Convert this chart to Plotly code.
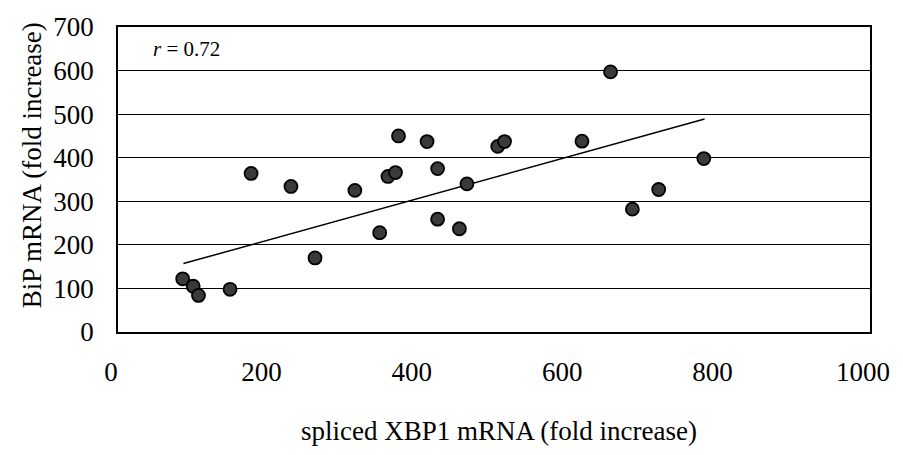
import plotly.graph_objects as go

# Data
xbp1 = [86, 100, 107, 149, 177, 230, 262, 315, 348, 359, 369, 373, 411, 425, 425,
        454, 464, 505, 514, 617, 655, 684, 719, 779]
bip = [122, 105, 84, 98, 364, 334, 170, 325, 228, 357, 366, 450, 437, 375, 259,
       237, 340, 426, 437, 438, 597, 282, 327, 398]

trend_x = [87, 780]
trend_y = [157, 489]

x_ticks = [0, 200, 400, 600, 800, 1000]
y_ticks = [0, 100, 200, 300, 400, 500, 600, 700]

FONT = "Liberation Serif"

fig = go.Figure()
fig.add_trace(go.Scatter(
    x=trend_x, y=trend_y, mode="lines",
    line=dict(color="black", width=1.5), showlegend=False, hoverinfo="skip"))
fig.add_trace(go.Scatter(
    x=xbp1, y=bip, mode="markers",
    marker=dict(size=13, color="#3a3a3a", line=dict(color="black", width=1.8)),
    showlegend=False))

fig.update_layout(
    width=903, height=455,
    margin=dict(l=118, r=33, t=19, b=123),
    paper_bgcolor="white", plot_bgcolor="white",
    font=dict(family=FONT, size=26, color="black"),
    xaxis=dict(range=[0, 1000], tickvals=x_ticks, showgrid=False, zeroline=False,
               showline=True, linecolor="black", linewidth=1.5, mirror=True,
               ticks="", ticklabelstandoff=15, ticklabelshift=-7,
               tickfont=dict(family=FONT, size=27, color="black")),
    yaxis=dict(range=[0, 700], tickvals=y_ticks, showgrid=True, gridcolor="black",
               gridwidth=1, zeroline=False,
               showline=True, linecolor="black", linewidth=1.5, mirror=True,
               ticks="", ticklabelstandoff=17,
               tickfont=dict(family=FONT, size=27, color="black")),
    annotations=[
        dict(text="<i>r</i> = 0.72", xref="paper", yref="paper",
             x=(151 - 118) / 752, y=(332 - 42) / 313, xanchor="left", yanchor="middle",
             showarrow=False, font=dict(family=FONT, size=21, color="black")),
        dict(text="spliced XBP1 mRNA (fold increase)", xref="paper", yref="paper",
             x=(499 - 118) / 752, y=(332 - 434) / 313, xanchor="center", yanchor="middle",
             showarrow=False, font=dict(family=FONT, size=27, color="black")),
        dict(text="BiP mRNA (fold increase)", xref="paper", yref="paper",
             x=(32 - 118) / 752, y=(332 - 161) / 313, xanchor="center", yanchor="middle",
             textangle=-90, showarrow=False, font=dict(family=FONT, size=27, color="black")),
    ],
)

fig.write_html("out.html")
